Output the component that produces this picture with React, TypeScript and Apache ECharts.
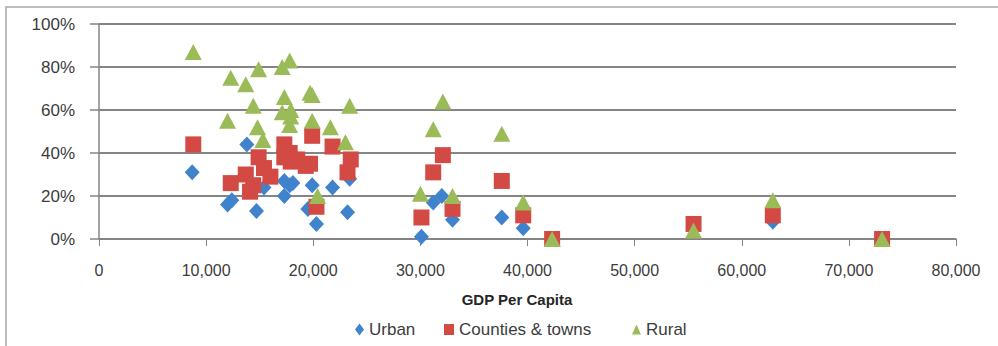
import React, { useEffect, useRef } from "react";
import * as echarts from "echarts";

const xTicks = [0, 10000, 20000, 30000, 40000, 50000, 60000, 70000, 80000];
const yTicks = [0, 20, 40, 60, 80, 100];

const urban: [number, number][] = [
  [8700, 31], [12000, 16], [12400, 18], [13800, 44], [14700, 13], [15400, 24],
  [17300, 27], [17800, 25], [17300, 20], [18100, 26], [19900, 25], [19500, 14],
  [20300, 7], [21800, 24], [23200, 12.5], [23400, 28], [30100, 1], [31200, 17],
  [32000, 20], [33000, 9], [37600, 10], [39600, 5], [42300, 0], [55500, 5],
  [62900, 8], [73100, 0],
];

const counties: [number, number][] = [
  [8800, 44], [12300, 26], [13700, 30], [14100, 22], [14400, 25], [14900, 38],
  [15400, 33], [16000, 29], [17300, 44], [17300, 38], [17800, 40], [17900, 36],
  [18500, 37], [19300, 34], [19700, 35], [19900, 48], [20300, 15], [21800, 43],
  [23200, 31], [23500, 37], [30100, 10], [31200, 31], [32100, 39], [33000, 14],
  [37600, 27], [39600, 11], [42300, 0], [55500, 7], [62900, 11], [73100, 0],
];

const rural: [number, number][] = [
  [8800, 87], [12300, 75], [13700, 72], [14900, 79], [14400, 62], [12000, 55],
  [14800, 52], [15300, 46], [17100, 80], [17800, 83], [17300, 66], [17100, 59],
  [17900, 60], [17800, 53], [17900, 57], [19700, 68], [19900, 67], [19900, 55],
  [20400, 20], [21600, 52], [23000, 45], [23400, 62], [30000, 21], [31200, 51],
  [32100, 64], [33000, 20], [37600, 49], [39600, 17], [42300, 0], [55500, 4],
  [62900, 18], [73100, 0],
];

const seriesNames = ["Urban", "Counties & towns", "Rural"];
const xAxisTitle = "GDP Per Capita";

const FONT = "'Liberation Sans', Arial, sans-serif";
const TEXT = "#3c3c3c";
const BLUE = "#3f83cc";
const RED = "#d24a43";
const GREEN = "#9bbb59";

export default function App() {
  const ref = useRef<HTMLDivElement>(null);
  useEffect(() => {
    if (!ref.current) return;
    const chart = echarts.init(ref.current, null, { renderer: "svg" });
    const fmt = (v: number) => v.toLocaleString("en-US");
    chart.setOption({
      animation: false,
      backgroundColor: "#ffffff",
      textStyle: { fontFamily: FONT },
      grid: { left: 99, right: 42, top: 24, bottom: 107, containLabel: false },
      xAxis: {
        type: "value",
        min: xTicks[0],
        max: xTicks[xTicks.length - 1],
        interval: xTicks[1] - xTicks[0],
        axisLine: { show: true, onZero: false, lineStyle: { color: "#858585", width: 1.5 } },
        axisTick: { show: true, inside: false, length: 7, lineStyle: { color: "#858585", width: 1 } },
        axisLabel: { margin: 23, fontSize: 16, color: TEXT, fontFamily: FONT, formatter: fmt },
        splitLine: { show: false },
      },
      yAxis: {
        type: "value",
        min: yTicks[0],
        max: yTicks[yTicks.length - 1],
        interval: yTicks[1] - yTicks[0],
        axisLine: { show: true, lineStyle: { color: "#858585", width: 1.5 } },
        axisTick: { show: true, inside: false, length: 9, lineStyle: { color: "#858585", width: 1.5 } },
        axisLabel: { margin: 24, fontSize: 17, color: TEXT, fontFamily: FONT, formatter: "{value}%" },
        splitLine: { show: true, lineStyle: { color: "#858585", width: 1.8 } },
      },
      legend: [
        {
          left: 350, top: 316, itemWidth: 9, itemHeight: 12, itemGap: 10,
          textStyle: { fontSize: 17, color: TEXT, fontFamily: FONT },
          data: [{ name: seriesNames[0], icon: "diamond" }],
        },
        {
          left: 439, top: 316, itemWidth: 10, itemHeight: 11, itemGap: 10,
          textStyle: { fontSize: 17, color: TEXT, fontFamily: FONT },
          data: [{ name: seriesNames[1], icon: "rect" }],
        },
        {
          left: 627, top: 316, itemWidth: 9, itemHeight: 10, itemGap: 10,
          textStyle: { fontSize: 17, color: TEXT, fontFamily: FONT },
          data: [{ name: seriesNames[2], icon: "triangle" }],
        },
      ],
      graphic: [
        {
          type: "rect",
          silent: true,
          shape: { x: 6, y: 7, width: 1020, height: 420 },
          style: { fill: "none", stroke: "#a8a8a8", lineWidth: 1.5 },
          z: -1,
        },
        {
          type: "text",
          x: 517,
          y: 299,
          style: {
            text: xAxisTitle,
            fontSize: 15,
            fontWeight: "bold",
            fill: "#262626",
            fontFamily: FONT,
            align: "center",
            verticalAlign: "middle",
          },
        },
      ],
      series: [
        {
          name: seriesNames[0],
          type: "scatter",
          symbol: "diamond",
          symbolSize: [15, 16],
          itemStyle: { color: BLUE, opacity: 1 },
          data: urban,
          z: 2,
        },
        {
          name: seriesNames[1],
          type: "scatter",
          symbol: "rect",
          symbolSize: 16,
          itemStyle: { color: RED, opacity: 1 },
          data: counties,
          z: 3,
        },
        {
          name: seriesNames[2],
          type: "scatter",
          symbol: "triangle",
          symbolSize: [17, 16],
          itemStyle: { color: GREEN, opacity: 1 },
          data: rural,
          z: 4,
        },
      ],
    });
    return () => chart.dispose();
  }, []);
  return (
    <div
      ref={ref}
      style={{ position: "fixed", left: 0, top: 0, width: 998, height: 346, background: "#fff" }}
    />
  );
}
